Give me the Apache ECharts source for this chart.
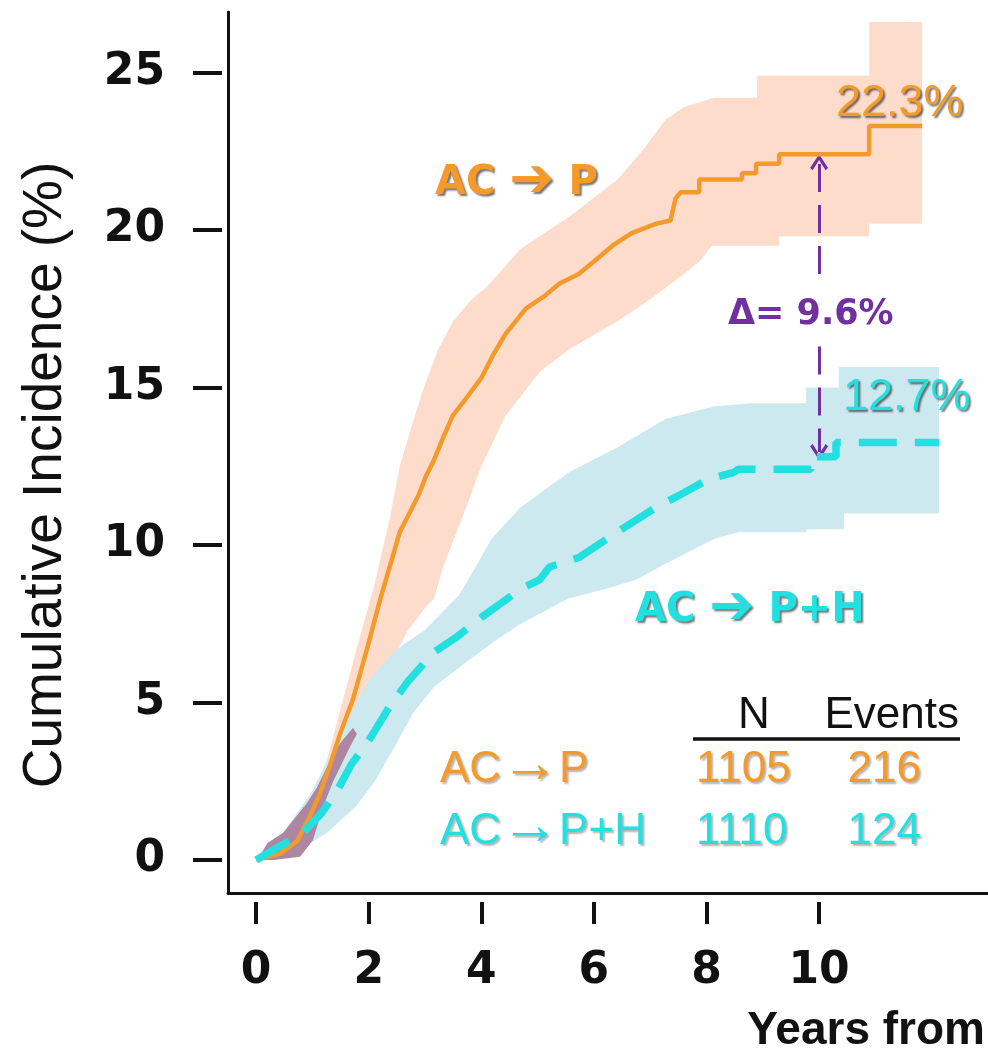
<!DOCTYPE html>
<html><head><meta charset="utf-8">
<script src="https://cdn.jsdelivr.net/npm/echarts@6/dist/echarts.min.js"></script>
<style>html,body{margin:0;padding:0;background:#fff}#c{width:988px;height:1059px}</style>
</head><body><div id="c"></div>
<script>
// ---- data ----
const xTicks = [0, 2, 4, 6, 8, 10];
const yTicks = [0, 5, 10, 15, 20, 25];

// cumulative incidence curves [years, %]
const orangeLine = [[0,0],[0.43,0.2],[0.73,0.6],[0.96,1.4],[1.13,2.1],[1.31,3.0],[1.49,4.0],[1.72,5.1],[1.97,6.7],[2.2,8.25],[2.29,8.8],[2.42,9.6],[2.55,10.4],[2.72,11.0],[2.89,11.6],[3.02,12.2],[3.16,12.7],[3.32,13.4],[3.49,14.1],[3.75,14.7],[4.0,15.3],[4.2,16.0],[4.43,16.7],[4.61,17.1],[4.79,17.5],[5.12,17.9],[5.39,18.3],[5.73,18.6],[6.0,19.0],[6.33,19.5],[6.67,19.9],[7.11,20.2],[7.36,20.3],[7.45,21.0],[7.54,21.2],[7.87,21.2],[7.87,21.6],[8.63,21.6],[8.63,21.8],[8.88,21.8],[8.88,22.1],[9.29,22.1],[9.29,22.4],[10.89,22.4],[10.89,23.3],[11.83,23.3]];
const cyanLine = [[0,0],[0.39,0.4],[0.83,0.86],[1.17,1.5],[1.44,2.2],[1.68,3.0],[2.04,3.9],[2.38,4.9],[2.71,5.7],[3.16,6.6],[3.58,7.1],[4.0,7.7],[4.7,8.6],[5.04,8.9],[5.21,9.3],[5.73,9.6],[6.24,10.2],[6.58,10.6],[7.11,11.2],[7.54,11.6],[8.05,12.1],[8.48,12.3],[8.56,12.4],[9.86,12.4],[9.86,12.8],[10.3,12.8],[10.3,13.25],[12.13,13.25]];

// confidence bands
const orangeUpper = [[0,0],[0.5,0.4],[0.9,1.2],[1.2,2.8],[1.5,4.8],[1.8,6.8],[2.11,8.8],[2.38,10.9],[2.55,12.5],[2.8,14.0],[3.0,15.1],[3.23,16.2],[3.5,17.1],[3.83,17.8],[4.1,18.2],[4.7,19.4],[5.55,20.4],[6.42,21.6],[6.9,22.6],[7.27,23.5],[7.6,23.9],[8.14,24.2],[8.9,24.2],[8.9,24.9],[10.89,24.9],[10.89,26.6],[11.83,26.6]];
const orangeLower = [[0,0],[0.5,0.1],[0.9,0.5],[1.2,1.3],[1.5,2.6],[1.77,3.6],[2.1,5.0],[2.4,6.3],[2.7,7.3],[3.0,8.0],[3.16,8.3],[3.32,9.3],[3.67,10.9],[4.0,12.5],[4.43,14.1],[5.04,15.5],[5.55,16.2],[6.42,17.1],[7.0,17.8],[7.6,18.6],[7.87,19.0],[8.1,19.5],[9.29,19.5],[9.29,19.8],[10.89,19.8],[10.89,20.2],[11.83,20.2]];
const cyanUpper = [[0,0],[0.5,0.9],[1.0,2.2],[1.5,4.0],[2.0,5.7],[2.5,6.7],[3.0,7.3],[3.6,8.4],[3.9,9.3],[4.18,10.2],[4.7,11.2],[5.55,12.3],[6.42,13.1],[7.27,14.0],[8.14,14.4],[8.8,14.5],[9.77,14.5],[9.77,15.0],[10.35,15.0],[10.35,15.65],[12.13,15.65]];
const cyanLower = [[0,0],[0.66,0.2],[1.26,0.86],[1.77,1.7],[2.11,2.5],[2.46,3.6],[2.8,4.7],[3.16,5.5],[3.67,6.2],[4.2,6.9],[4.7,7.5],[5.55,8.3],[6.2,8.6],[6.76,8.9],[7.27,9.4],[8.14,10.2],[8.56,10.4],[9.77,10.4],[9.77,10.5],[10.44,10.5],[10.44,11.0],[12.13,11.0]];
const overlapUpper = [[0.02,0],[0.2,0.54],[0.48,0.86],[0.9,1.8],[1.08,2.3],[1.26,2.95],[1.49,3.7],[1.72,4.2]];
const overlapLower = [[0.02,0],[0.3,0],[0.78,0.1],[1.01,0.63],[1.19,1.7],[1.37,2.5],[1.67,3.6],[1.79,4.0]];

// annotations
const groupNames = [['AC', '\u2794', 'P'], ['AC', '\u2794', 'P+H']];
const endLabels = ['22.3%', '12.7%'];
const deltaLabel = '\u0394= 9.6%';
const deltaArrow = { x: 10, top: 22.15, gapTop: 18.6, gapBottom: 16.3, bottom: 12.95 };
const tableHeader = ['N', 'Events'];
const tableRows = [['AC', '\u2192', 'P', '1105', '216'], ['AC', '\u2192', 'P+H', '1110', '124']];

// ---- style ----
const ORANGE = '#f39a2b';
const CYAN = '#22e0e0';
const PURPLE = '#7030a0';
const SHADOW = { textShadowColor: 'rgba(0,0,0,0.55)', textShadowBlur: 2, textShadowOffsetX: 2, textShadowOffsetY: 2 };
const SOFT = { textShadowColor: 'rgba(0,0,0,0.3)', textShadowBlur: 2, textShadowOffsetX: 2, textShadowOffsetY: 2 };

function band(upper, lower, color, z) {
  return {
    type: 'custom', coordinateSystem: 'cartesian2d', silent: true, z: z,
    data: [[0, 0]],
    renderItem: function (params, api) {
      const pts = upper.map(p => api.coord(p)).concat(lower.slice().reverse().map(p => api.coord(p)));
      return { type: 'polygon', shape: { points: pts }, style: { fill: color } };
    }
  };
}

function groupLabel(parts, color, x, y) {
  const base = Object.assign({ fontFamily: 'DejaVu Sans', fontWeight: 'bold', fontSize: 40, fill: color }, SHADOW);
  return { type: 'text', x: x, y: y, z: 100,
    style: Object.assign({}, base, {
      text: parts[0] + ' {a|' + parts[1] + '} ' + parts[2],
      align: 'left', verticalAlign: 'middle',
      rich: { a: Object.assign({}, base, { fontSize: 54, padding: [0, 0, 4, 0] }) }
    }) };
}

function rowName(row, color, x, y) {
  const base = Object.assign({ fontFamily: 'Liberation Sans', fontSize: 44, fill: color }, SOFT);
  return { type: 'text', x: x, y: y, z: 100,
    style: Object.assign({}, base, {
      text: row[0] + '{a|' + row[1] + '}' + row[2],
      align: 'left', verticalAlign: 'middle',
      rich: { a: Object.assign({}, base, { fontSize: 58, padding: [0, 0, 9, 0] }) }
    }) };
}

function plain(text, color, x, y, align, soft) {
  return { type: 'text', x: x, y: y, z: 100,
    style: Object.assign({ text: text, fontFamily: 'Liberation Sans', fontSize: 44, fill: color, align: align, verticalAlign: 'middle' }, soft ? SOFT : {}) };
}

const chev = 'path://M5,0 L10,7 L8.6,8.2 L5,3 L1.4,8.2 L0,7 Z';

const chart = echarts.init(document.getElementById('c'), null, { renderer: 'canvas' });
const tickFont = { fontFamily: 'DejaVu Sans', fontWeight: 'bold', fontSize: 44, color: '#111' };
chart.setOption({
  animation: false,
  backgroundColor: '#fff',
  grid: { left: 228, right: 0, top: 12, bottom: 166 },
  xAxis: [
    { type: 'value', min: -0.5, max: 13, position: 'bottom',
      axisLine: { show: true, onZero: false, lineStyle: { color: '#111', width: 3 } },
      axisTick: { show: false }, axisLabel: { show: false }, splitLine: { show: false } },
    { type: 'value', min: -0.5, max: 13, position: 'bottom', offset: 9,
      axisLine: { show: false, onZero: false },
      axisTick: { show: true, length: 22, customValues: xTicks, lineStyle: { color: '#111', width: 4 } },
      axisLabel: Object.assign({ show: true, margin: 48, customValues: xTicks }, tickFont),
      splitLine: { show: false } }
  ],
  yAxis: [
    { type: 'value', min: -1.05, max: 26.92, position: 'left',
      axisLine: { show: true, onZero: false, lineStyle: { color: '#111', width: 3 } },
      axisTick: { show: false }, axisLabel: { show: false }, splitLine: { show: false } },
    { type: 'value', min: -1.05, max: 26.92, position: 'left', offset: 6,
      axisLine: { show: false, onZero: false },
      axisTick: { show: true, length: 29, customValues: yTicks, lineStyle: { color: '#111', width: 4 } },
      axisLabel: Object.assign({ show: true, margin: 57, customValues: yTicks }, tickFont),
      splitLine: { show: false } }
  ],
  series: [
    band(orangeUpper, orangeLower, '#fddccb', 1),
    band(cyanUpper, cyanLower, '#cde9f0', 2),
    band(overlapUpper, overlapLower, '#ad86a2', 3),
    { type: 'line', data: orangeLine, showSymbol: false, symbol: 'none', z: 5,
      lineStyle: { color: ORANGE, width: 4.5 },
      markLine: {
        silent: true, animation: false, label: { show: false },
        lineStyle: { color: PURPLE, width: 3, type: [28, 13] },
        symbol: ['none', chev], symbolSize: [18, 16],
        data: [
          [{ coord: [deltaArrow.x, deltaArrow.gapTop] }, { coord: [deltaArrow.x, deltaArrow.top] }],
          [{ coord: [deltaArrow.x, deltaArrow.gapBottom] }, { coord: [deltaArrow.x, deltaArrow.bottom] }]
        ]
      } },
    { type: 'line', data: cyanLine, showSymbol: false, symbol: 'none', z: 6,
      lineStyle: { color: CYAN, width: 7.5, type: [38, 18] } }
  ],
  graphic: [
    { type: 'text', x: 46, y: 475, rotation: Math.PI / 2,
      style: { text: 'Cumulative Incidence (%)', fontFamily: 'Liberation Sans', fontSize: 55, fill: '#111', align: 'center', verticalAlign: 'middle' } },
    { type: 'text', x: 985, y: 1031,
      style: { text: 'Years from', fontFamily: 'Liberation Sans', fontWeight: 'bold', fontSize: 46, fill: '#111', align: 'right', verticalAlign: 'middle' } },
    groupLabel(groupNames[0], ORANGE, 435, 184),
    groupLabel(groupNames[1], CYAN, 635, 611),
    { type: 'text', x: 836, y: 104, z: 100,
      style: Object.assign({ text: endLabels[0], fontFamily: 'Liberation Sans', fontSize: 45, fill: ORANGE, align: 'left', verticalAlign: 'middle' }, SHADOW) },
    { type: 'text', x: 843, y: 398, z: 100,
      style: Object.assign({ text: endLabels[1], fontFamily: 'Liberation Sans', fontSize: 45, fill: CYAN, align: 'left', verticalAlign: 'middle' }, SHADOW) },
    { type: 'text', x: 728, y: 315, z: 100,
      style: { text: deltaLabel, fontFamily: 'DejaVu Sans', fontWeight: 'bold', fontSize: 35, fill: PURPLE, align: 'left', verticalAlign: 'middle' } },
    plain(tableHeader[0], '#111', 738, 716, 'left', false),
    plain(tableHeader[1], '#111', 959, 716, 'right', false),
    { type: 'line', z: 100, shape: { x1: 693, y1: 739, x2: 960, y2: 739 }, style: { stroke: '#111', lineWidth: 3.5 } },
    rowName(tableRows[0], ORANGE, 440, 770),
    plain(tableRows[0][3], ORANGE, 696, 770, 'left', true),
    plain(tableRows[0][4], ORANGE, 921, 770, 'right', true),
    rowName(tableRows[1], CYAN, 440, 832),
    plain(tableRows[1][3], CYAN, 696, 832, 'left', true),
    plain(tableRows[1][4], CYAN, 921, 832, 'right', true)
  ]
});
</script></body></html>
